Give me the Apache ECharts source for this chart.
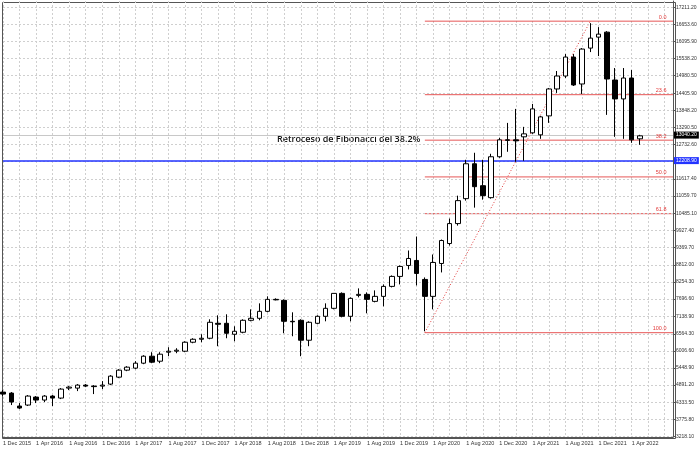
<!DOCTYPE html>
<html><head><meta charset="utf-8">
<script src="https://cdn.jsdelivr.net/npm/echarts@6/dist/echarts.min.js"></script>
<style>html,body{margin:0;padding:0;background:#fff}#c{width:700px;height:449px}</style>
</head><body><div id="c"></div>
<script>
// Monthly candles Dec 2015 .. May 2022 : [open, close, low, high]
const opens  = [4664,4631,4209,4241,4501,4404,4534,4469,4794,4794,4891,4859,4859,4924,5151,5379,5444,5606,5834,5671,5964,5996,5996,6289,6386,6419,6906,6906,6549,6614,7004,7069,7296,7686,7654,6971,7004,6354,6906,7134,7394,7881,7134,7816,7849,7621,7784,8109,8434,8791,8954,8336,7784,8856,9506,10156,10969,12106,11391,11001,12334,12886,12886,12984,13114,13049,13666,14544,14966,15584,14706,15876,16234,16396,14836,14219,14901,12919];
const closes = [4599,4339,4144,4534,4404,4534,4469,4761,4826,4891,4859,4842,4891,5184,5379,5476,5606,5834,5639,5899,5996,6029,6289,6386,6419,6939,6874,6581,6646,7004,7069,7296,7686,7670,6971,6955,6354,6939,7134,7394,7881,7134,7719,7849,7686,7784,8109,8434,8759,9019,8531,7784,8889,9604,10156,10904,12106,11359,11066,12334,12886,12870,12854,13081,13894,13634,14544,14966,15584,14674,15844,16201,16331,14869,14219,14901,12886,13016];
const lows   = [4534,4241,4111,4209,4306,4339,4209,4436,4729,4696,4826,4599,4761,4891,5119,5346,5411,5574,5606,5606,5834,5931,5964,6256,6289,6386,6159,6419,6321,6581,6971,7004,7264,7654,6581,6484,5834,6159,6874,6971,7361,7101,6971,7751,7231,7589,7459,8076,8174,8661,8141,6646,7361,8564,9441,10091,10904,10676,10936,10969,12301,12496,12171,12204,13081,12919,13439,14414,14901,14641,14381,15746,15616,13699,12984,12919,12789,12724];
const highs  = [4729,4664,4306,4566,4534,4566,4566,4794,4859,4924,4924,4891,5021,5216,5411,5509,5671,5866,5964,5964,6126,6094,6321,6419,6549,7036,7166,7199,6809,7036,7361,7556,7784,7719,7686,7264,7036,6971,7166,7556,7881,7914,7751,8044,7914,7979,8174,8466,8791,9279,9734,8401,9149,9636,10319,11066,12236,12464,12236,12431,12951,13438,13894,13309,14056,13666,14576,15129,15681,15681,15876,16689,16559,16429,15226,15226,15161,13049];
const yTicks = [3218.10,3775.80,4333.50,4891.20,5448.90,6006.60,6564.30,7138.90,7696.60,8254.30,8812.00,9369.70,9927.40,10485.10,11059.70,11617.40,12175.10,12732.60,13290.50,13848.20,14405.90,14980.50,15538.20,16095.90,16653.60,17211.20];
const monthNames = ['Jan','Feb','Mar','Apr','May','Jun','Jul','Aug','Sep','Oct','Nov','Dec'];
const nMonths = 82; // axis extends past last candle
const categories = [];
for (let i=0;i<nMonths;i++){ const m=(11+i)%12, y=2015+Math.floor((11+i)/12); categories.push('1 '+monthNames[m]+' '+y); }
const fibLevels = [0.0,23.6,38.2,50.0,61.8,100.0];
const fibHigh = 16754, fibLow = 6600;
const fibStartIdx = 51, fibHighIdx = 71;
const bluePrice = 12208.90;
const lastPrice = 13040.20;
const noteText = 'Retroceso de Fibonacci del 38.2%';

const candles = opens.map((o,i)=>[o,closes[i],lows[i],highs[i]]);
const lastIdx = nMonths-1;
const red = '#e23a3a';
const fibSeries = fibLevels.map(l=>{ const v=fibHigh-(fibHigh-fibLow)*l/100; return {
  type:'line',data:[[fibStartIdx,v],[lastIdx,v]],symbol:'none',silent:true,z:3,
  lineStyle:{color:red,width:1,opacity:0.85},
  markPoint:{symbol:'rect',symbolSize:1,silent:true,itemStyle:{color:'transparent'},
    data:[{coord:[lastIdx,v],label:{show:true,formatter:l.toFixed(1),color:red,fontSize:5.5,position:'left',offset:[-1,-4]}}]}};});
const diagSeries = {type:'line',data:[[fibStartIdx,fibLow],[fibHighIdx,fibHigh]],symbol:'none',silent:true,z:3,
  lineStyle:{color:red,width:1,type:[1,2]}};
const gridLines = yTicks.map(v=>({yAxis:v}));

const chart = echarts.init(document.getElementById('c'));
chart.setOption({
  animation:false,
  backgroundColor:'#fff',
  grid:{left:0,right:27,top:1,bottom:12},
  xAxis:{type:'category',data:categories,boundaryGap:false,
    axisLine:{lineStyle:{color:'#555'}},axisTick:{show:false},
    axisLabel:{interval:3,fontSize:5.5,color:'#333',align:'left',margin:3,fontFamily:'Liberation Sans',showMinLabel:true,hideOverlap:false,
      formatter:(v,i)=> i<=77? v:''},
    splitLine:{show:true,interval:1,lineStyle:{color:'#cfcfcf',type:[2,2]}}},
  yAxis:{type:'value',position:'right',min:3200,max:17411,scale:true,
    axisLine:{show:true,lineStyle:{color:'#555'}},
    axisTick:{show:true,length:2,customValues:yTicks},
    axisLabel:{fontSize:5,color:'#333',margin:3,fontFamily:'Liberation Sans',customValues:yTicks,formatter:v=>v.toFixed(2)},
    splitLine:{show:false}},
  graphic:[
    {type:'rect',left:0,top:0,shape:{width:673,height:436},style:{fill:'none',stroke:'#555',lineWidth:1},silent:true},
    {type:'text',left:277,top:135,style:{text:noteText,fontSize:9,fontFamily:'Open Sans',fontWeight:600,fill:'#111'}}
  ],
  series:[
    {type:'line',data:[],markLine:{silent:true,symbol:'none',label:{show:false},lineStyle:{color:'#cfcfcf',type:[2,2],width:1},data:gridLines}},
    ...fibSeries, diagSeries,
    {type:'candlestick',data:candles,barWidth:5,z:5,
      itemStyle:{color:'#fff',color0:'#000',borderColor:'#000',borderColor0:'#000',borderWidth:1},
      markLine:{silent:true,symbol:'none',data:[
        {yAxis:lastPrice,lineStyle:{color:'#c8c8c8',width:1,type:'solid'},label:{show:true,position:'end',formatter:lastPrice.toFixed(2),backgroundColor:'#000',color:'#fff',fontSize:5,padding:[1,2],distance:1}},
        {yAxis:bluePrice,lineStyle:{color:'#2233ff',width:1.5,type:'solid'},label:{show:true,position:'end',formatter:bluePrice.toFixed(2),backgroundColor:'#2233ff',color:'#fff',fontSize:5,padding:[1,2],distance:1}}
      ]}}
  ]
});
</script></body></html>
